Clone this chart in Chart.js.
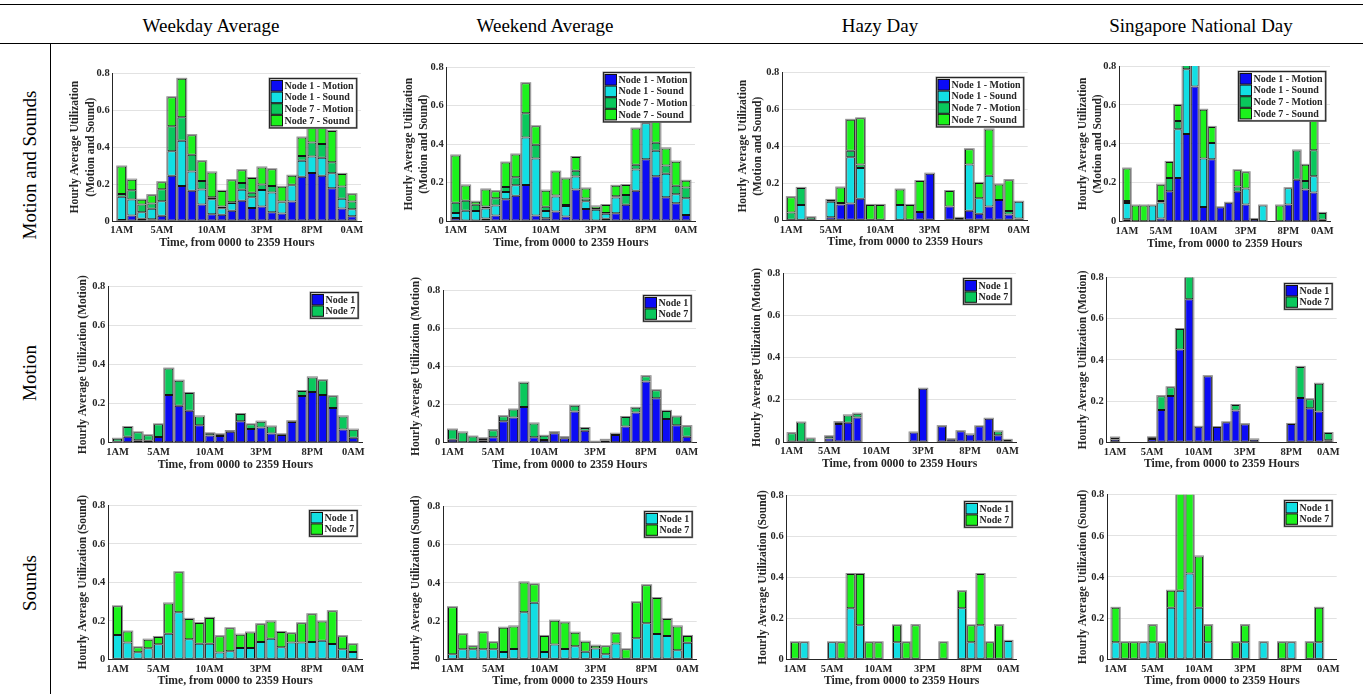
<!DOCTYPE html>
<html>
<head>
<meta charset="utf-8">
<title>Hourly average utilization</title>
<script src="https://cdn.jsdelivr.net/npm/chart.js@4.4.1/dist/chart.umd.min.js"></script>
<style>
  html, body { margin: 0; padding: 0; background: #fff; }
  body { position: relative; width: 1363px; height: 694px; overflow: hidden; font-family: "Liberation Serif", "Times New Roman", serif; color: #000; }
  .hline { position: absolute; left: 0; width: 1363px; height: 1px; background: #000; }
  .vline { position: absolute; left: 50px; top: 44px; width: 1px; height: 650px; background: #000; }
  .colhead { position: absolute; top: 15px; font-size: 19px; white-space: nowrap; transform: translateX(-50%); }
  .rowhead { position: absolute; left: 30px; font-size: 19px; white-space: nowrap; transform: translate(-50%, -50%) rotate(-90deg); }
  canvas { position: absolute; }
</style>
</head>
<body>
<div class="hline" style="top:4px"></div>
<div class="hline" style="top:43px"></div>
<div class="vline"></div>
<div class="colhead" style="left:211px">Weekday Average</div>
<div class="colhead" style="left:545px">Weekend Average</div>
<div class="colhead" style="left:880px">Hazy Day</div>
<div class="colhead" style="left:1201px">Singapore National Day</div>
<div class="rowhead" style="top:165px">Motion and Sounds</div>
<div class="rowhead" style="top:373px">Motion</div>
<div class="rowhead" style="top:583px">Sounds</div>

<script>
// hours of the day, 1 = 0100 ... 24 = 0000
const hours = [1, 2, 3, 4, 5, 6, 7, 8, 9, 10, 11, 12, 13, 14, 15, 16, 17, 18, 19, 20, 21, 22, 23, 24];
const xTickHours = [1, 5, 10, 15, 20, 24];
const xTickLabels = ['1AM', '5AM', '10AM', '3PM', '8PM', '0AM'];
const yTicks = [0, 0.2, 0.4, 0.6, 0.8];

// weekday average
const weekdayN1Motion = [0.005, 0.03, 0.012, 0.01, 0.029, 0.245, 0.19, 0.164, 0.09, 0.037, 0.034, 0.056, 0.11, 0.07, 0.078, 0.047, 0.04, 0.106, 0.24, 0.26, 0.245, 0.178, 0.068, 0.026];
const weekdayN7Motion = [0.015, 0.05, 0.041, 0.028, 0.065, 0.135, 0.128, 0.091, 0.045, 0.011, 0.009, 0.004, 0.037, 0.024, 0.03, 0.036, 0.003, 0.004, 0.025, 0.075, 0.075, 0.06, 0.067, 0.041];
const weekdayN1Sound = [0.126, 0.087, 0.036, 0.057, 0.078, 0.133, 0.244, 0.104, 0.081, 0.081, 0.035, 0.042, 0.059, 0.059, 0.09, 0.107, 0.062, 0.087, 0.087, 0.09, 0.097, 0.08, 0.052, 0.038];
const weekdayN7Sound = [0.149, 0.057, 0.026, 0.045, 0.038, 0.157, 0.208, 0.106, 0.108, 0.134, 0.085, 0.119, 0.069, 0.08, 0.092, 0.09, 0.08, 0.048, 0.1, 0.144, 0.099, 0.17, 0.068, 0.04];

// weekend average
const weekendN1Motion = [0.016, 0.002, 0, 0.013, 0.029, 0.113, 0.132, 0.188, 0.029, 0.014, 0.049, 0.024, 0.164, 0.063, 0.002, 0.012, 0.04, 0.085, 0.158, 0.321, 0.233, 0.124, 0.092, 0.031];
const weekendN7Motion = [0.053, 0.052, 0.032, 0.01, 0.037, 0.026, 0.042, 0.127, 0.072, 0.022, 0.006, 0.005, 0.03, 0.014, 0.003, 0.003, 0.007, 0.05, 0.025, 0.028, 0.042, 0.043, 0.045, 0.056];
const weekendN1Sound = [0.026, 0.052, 0.052, 0.052, 0.052, 0.038, 0.054, 0.246, 0.296, 0.038, 0.078, 0.054, 0.068, 0.04, 0.057, 0.026, 0.082, 0, 0.11, 0.188, 0.132, 0.122, 0.047, 0.087];
const weekendN7Sound = [0.246, 0.079, 0.016, 0.089, 0.037, 0.127, 0.118, 0.156, 0.096, 0.084, 0.124, 0.138, 0.071, 0.052, 0.014, 0.042, 0.054, 0.052, 0.188, 0.199, 0.188, 0.089, 0.125, 0.035];

// hazy day
const hazyN1Motion = [0, 0, 0, 0, 0.017, 0.085, 0.091, 0.116, 0, 0, 0, 0, 0, 0.045, 0.252, 0, 0.075, 0.013, 0.051, 0.036, 0.074, 0.11, 0.032, 0.01];
const hazyN7Motion = [0.042, 0.092, 0.016, 0, 0.01, 0.009, 0.035, 0.018, 0, 0, 0, 0, 0, 0, 0, 0, 0, 0, 0, 0, 0, 0, 0.018, 0];
const hazyN1Sound = [0, 0.083, 0, 0, 0.083, 0, 0.25, 0.167, 0, 0, 0, 0.083, 0, 0, 0, 0, 0, 0, 0.25, 0.083, 0.167, 0, 0, 0.09];
const hazyN7Sound = [0.083, 0, 0, 0, 0, 0.083, 0.167, 0.25, 0.083, 0.083, 0, 0.083, 0.083, 0.167, 0, 0, 0.083, 0, 0.083, 0.083, 0.25, 0.083, 0.167, 0];

// singapore national day
const singaporeN1Motion = [0.013, 0, 0, 0, 0.016, 0.157, 0.225, 0.45, 0.695, 0.075, 0.321, 0.074, 0.097, 0.154, 0.088, 0.014, 0, 0, 0, 0.089, 0.215, 0.165, 0.15, 0.01];
const singaporeN7Motion = [0.01, 0, 0, 0, 0.008, 0.067, 0.042, 0.1, 0.11, 0, 0, 0, 0, 0.027, 0, 0, 0, 0, 0, 0, 0.151, 0.044, 0.134, 0.035];
const singaporeN1Sound = [0.083, 0, 0, 0.083, 0.083, 0, 0.25, 0.333, 0.417, 0.25, 0.083, 0, 0, 0, 0.083, 0, 0.083, 0, 0, 0.083, 0, 0, 0.083, 0];
const singaporeN7Sound = [0.167, 0.083, 0.083, 0, 0.083, 0.083, 0.083, 0.5, 0.42, 0.25, 0.083, 0, 0, 0.083, 0.083, 0, 0, 0, 0.083, 0, 0, 0.083, 0.167, 0];

const series = {
  weekday: { n1Motion: weekdayN1Motion, n1Sound: weekdayN1Sound, n7Motion: weekdayN7Motion, n7Sound: weekdayN7Sound },
  weekend: { n1Motion: weekendN1Motion, n1Sound: weekendN1Sound, n7Motion: weekendN7Motion, n7Sound: weekendN7Sound },
  hazy: { n1Motion: hazyN1Motion, n1Sound: hazyN1Sound, n7Motion: hazyN7Motion, n7Sound: hazyN7Sound },
  singapore: { n1Motion: singaporeN1Motion, n1Sound: singaporeN1Sound, n7Motion: singaporeN7Motion, n7Sound: singaporeN7Sound }
};

const BLUE = '#0b0bf5', CYAN = '#12dfe3', GREEN = '#0ac85c', LIME = '#1cf21c';
const INK = '#262626';
const FAMILY = '"Liberation Serif", "Times New Roman", serif';

const rowSets = {
  both: [['Node 1 - Motion', 'n1Motion', BLUE], ['Node 1 - Sound', 'n1Sound', CYAN], ['Node 7 - Motion', 'n7Motion', GREEN], ['Node 7 - Sound', 'n7Sound', LIME]],
  motion: [['Node 1', 'n1Motion', BLUE], ['Node 7', 'n7Motion', GREEN]],
  sound: [['Node 1', 'n1Sound', CYAN], ['Node 7', 'n7Sound', LIME]]
};
const rowTitles = {
  both: ['Hourly Average Utilization', '(Motion and Sound)'],
  motion: 'Hourly Average Utilization (Motion)',
  sound: 'Hourly Average Utilization (Sound)'
};

// plot boxes in page pixels: y axis x, top (0.8), right edge, bottom (0), y title offset
const panels = [
  { row: 'both', day: 'weekday', ax: 112.7, top: 73.3, right: 361, bottom: 221, tOff: 37.4 },
  { row: 'both', day: 'weekend', ax: 446.7, top: 67.3, right: 695, bottom: 221, tOff: 37.7 },
  { row: 'both', day: 'hazy', ax: 782.3, top: 72.3, right: 1027.7, bottom: 220.3, tOff: 39.6 },
  { row: 'both', day: 'singapore', ax: 1119.3, top: 66, right: 1330, bottom: 221.7, tOff: 36.6 },
  { row: 'motion', day: 'weekday', ax: 108.3, top: 286.7, right: 362.6, bottom: 442.7, tOff: 25 },
  { row: 'motion', day: 'weekend', ax: 443.3, top: 290.3, right: 696, bottom: 442.7, tOff: 27.6 },
  { row: 'motion', day: 'hazy', ax: 783.3, top: 273, right: 1016, bottom: 442, tOff: 26.6 },
  { row: 'motion', day: 'singapore', ax: 1106.7, top: 277.5, right: 1336.7, bottom: 442.3, tOff: 24 },
  { row: 'sound', day: 'weekday', ax: 108.3, top: 505.3, right: 362, bottom: 659.3, tOff: 25 },
  { row: 'sound', day: 'weekend', ax: 443.3, top: 506.3, right: 696.7, bottom: 659.3, tOff: 27.6 },
  { row: 'sound', day: 'hazy', ax: 786.7, top: 495.7, right: 1016.7, bottom: 659.3, tOff: 23.4 },
  { row: 'sound', day: 'singapore', ax: 1107.3, top: 494.7, right: 1336.7, bottom: 659.3, tOff: 24 }
];

// gray rim round each whole stack, like the reference
const stackOutline = {
  id: 'stackOutline',
  beforeDatasetsDraw(chart) {
    const ctx = chart.ctx, a = chart.chartArea;
    ctx.save();
    ctx.beginPath();
    ctx.rect(a.left, a.top, a.right - a.left, a.bottom - a.top);
    ctx.clip();
    ctx.strokeStyle = '#8f8f8f';
    ctx.lineWidth = 1;
    for (let i = 0; i < chart.data.labels.length; i++) {
      let top = Infinity, bottom = -Infinity, x = 0, w = 0;
      chart.data.datasets.forEach((d, di) => {
        const el = chart.getDatasetMeta(di).data[i];
        if (!el || !(d.data[i] > 0)) return;
        top = Math.min(top, el.y);
        bottom = Math.max(bottom, el.base);
        x = el.x; w = el.width;
      });
      if (top < bottom) ctx.strokeRect(x - w / 2 - 0.5, top - 0.5, w + 1, bottom - top + 0.5);
    }
    ctx.restore();
  }
};

// boxed legend inside the top right corner of the plot
const boxLegend = {
  id: 'boxLegend',
  afterDatasetsDraw(chart) {
    const ctx = chart.ctx, a = chart.chartArea;
    const sets = chart.data.datasets;
    const rowH = sets.length > 2 ? 11.6 : 11.4, sw = 11.5, pad = 1.5;
    ctx.save();
    ctx.font = 'bold 10px ' + FAMILY;
    const tw = Math.max(...sets.map(d => ctx.measureText(d.label).width));
    const w = pad + sw + 2 + tw + 3, h = pad * 2 + rowH * sets.length;
    const x0 = Math.round(a.right - 5 - w) + 0.5, y0 = Math.round(a.top + 5) + 0.5;
    ctx.fillStyle = '#fff';
    ctx.fillRect(x0, y0, w, h);
    ctx.strokeStyle = '#8f8f8f';
    ctx.lineWidth = 2;
    ctx.strokeRect(x0, y0, w, h);
    ctx.strokeStyle = INK;
    ctx.lineWidth = 1;
    ctx.strokeRect(x0, y0, w, h);
    sets.forEach((d, i) => {
      const y = y0 + pad + i * rowH;
      ctx.fillStyle = d.backgroundColor;
      ctx.fillRect(x0 + pad, y + 0.5, sw, rowH - 1);
      ctx.strokeStyle = '#111';
      ctx.strokeRect(x0 + pad, y + 0.5, sw, rowH - 1);
      ctx.fillStyle = INK;
      ctx.textBaseline = 'middle';
      ctx.fillText(d.label, x0 + pad + sw + 2, y + rowH / 2 + 0.5);
    });
    ctx.restore();
  }
};

panels.forEach(p => {
  const two = p.row === 'both';
  const titleLH = two ? 1.35 : 1.2;
  const yW = p.tOff + 11.5 * titleLH / 2;
  const xH = 28.9;
  const cl = Math.floor(p.ax - yW - 1), ct = Math.floor(p.top - 16);
  const cr = Math.ceil(p.right + 8), cb = Math.ceil(p.bottom + xH + 6);
  const cv = document.createElement('canvas');
  cv.width = cr - cl;
  cv.height = cb - ct;
  cv.style.left = cl + 'px';
  cv.style.top = ct + 'px';
  document.body.appendChild(cv);

  const data = series[p.day];
  const datasets = rowSets[p.row].map(([label, key, color]) => ({
    label: label,
    data: data[key],
    backgroundColor: color,
    borderColor: '#141414',
    borderWidth: 1,
    borderSkipped: false,
    clip: 0
  }));

  new Chart(cv, {
    type: 'bar',
    data: { labels: hours, datasets: datasets },
    options: {
      responsive: false,
      animation: false,
      devicePixelRatio: 1,
      layout: { padding: { left: p.ax - yW - cl, top: p.top - ct, right: cr - p.right, bottom: cb - p.bottom - xH } },
      datasets: { bar: { categoryPercentage: 1, barPercentage: 0.88 } },
      plugins: { legend: { display: false }, tooltip: { enabled: false } },
      scales: {
        x: {
          type: 'linear',
          stacked: true,
          offset: false,
          min: 0.1,
          max: 24.9,
          afterBuildTicks: s => { s.ticks = xTickHours.map(v => ({ value: v })); },
          afterFit: s => { s.height = xH; },
          grid: { display: false, drawTicks: false, offset: false },
          border: { display: true, color: INK, width: 1 },
          ticks: {
            autoSkip: false, maxRotation: 0, padding: 3.4, color: INK,
            font: { family: FAMILY, size: 10.5, weight: 'bold' },
            callback: v => xTickLabels[xTickHours.indexOf(v)]
          },
          title: {
            display: true, text: 'Time, from 0000 to 2359 Hours', color: INK, padding: 0,
            font: { family: FAMILY, size: 11.7, weight: 'bold' }
          }
        },
        y: {
          stacked: true,
          min: 0,
          max: 0.8,
          afterBuildTicks: s => { s.ticks = yTicks.map(v => ({ value: v })); },
          afterFit: s => { s.width = yW; },
          grid: { color: '#e2e2e2', drawTicks: false },
          border: { display: true, color: INK, width: 1 },
          ticks: {
            padding: 3, color: INK,
            font: { family: FAMILY, size: 10.5, weight: 'bold' },
            callback: v => v === 0 ? '0' : v.toFixed(1)
          },
          title: {
            display: true, text: rowTitles[p.row], color: INK, padding: 0,
            font: { family: FAMILY, size: 11.5, weight: 'bold', lineHeight: titleLH }
          }
        }
      }
    },
    plugins: [stackOutline, boxLegend]
  });
});
</script>
</body>
</html>
